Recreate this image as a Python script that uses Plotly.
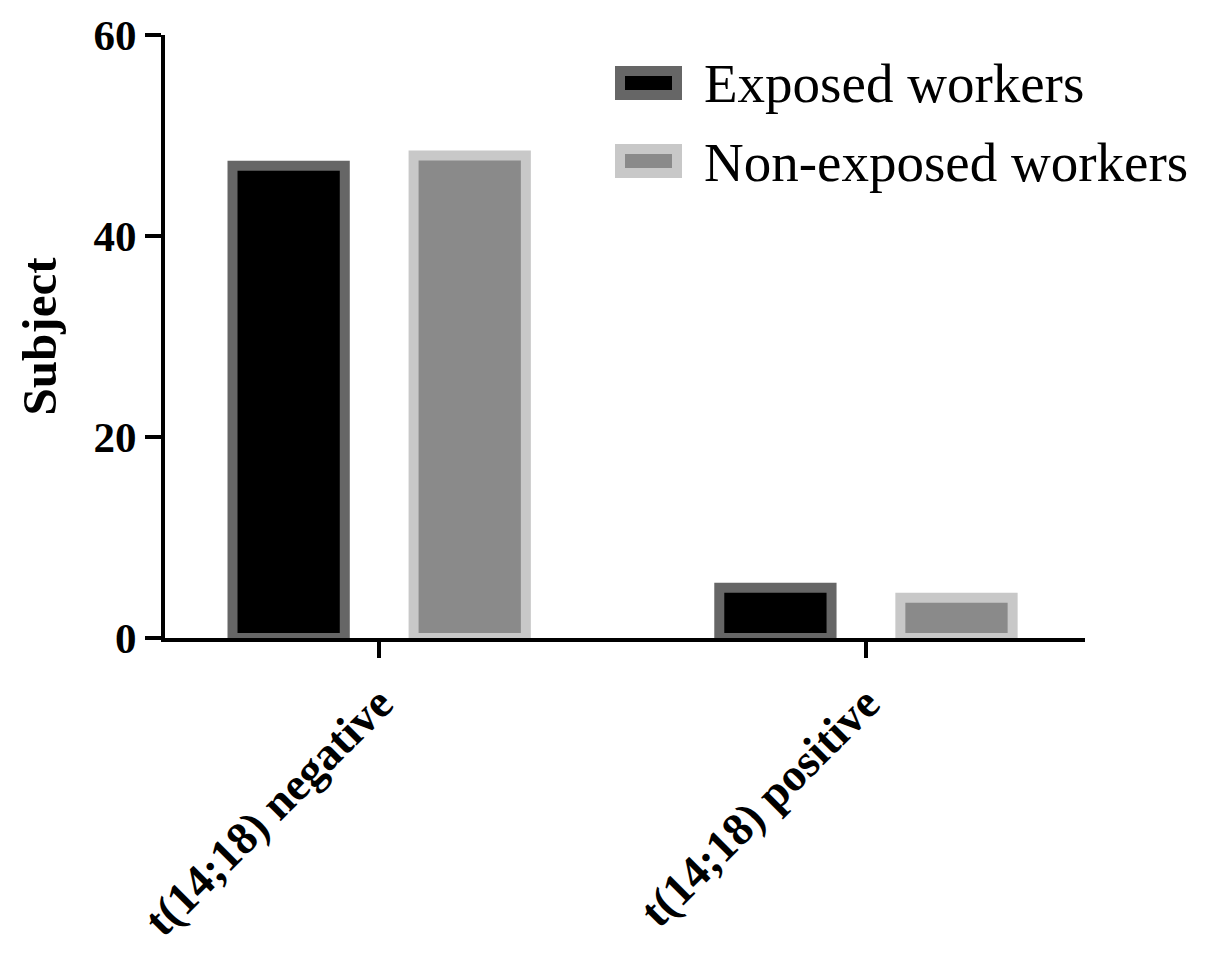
import plotly.graph_objects as go

categories = ["t(14;18) negative", "t(14;18) positive"]
exposed = [47, 5]
non_exposed = [48, 4]
y_ticks = [0, 20, 40, 60]
series_names = ["Exposed workers", "Non-exposed workers"]

OFF = 8  # default page body margin
W, H = 1205 - OFF, 959 - OFF
L, T = 165 - OFF, 35 - OFF
R = W - (1085 - OFF)
B = H - (638 - OFF)
pw, ph = W - L - R, H - T - B

fig = go.Figure()
fig.add_trace(go.Bar(x=categories, y=exposed, name=series_names[0],
                     marker=dict(color="#000000", line=dict(color="#666666", width=10)),
                     showlegend=False))
fig.add_trace(go.Bar(x=categories, y=non_exposed, name=series_names[1],
                     marker=dict(color="#8a8a8a", line=dict(color="#c8c8c8", width=10)),
                     showlegend=False))

def px2paper(x, y):
    # x, y in page pixels (reference coordinates)
    return (x - OFF - L) / pw, (H - B - (y - OFF)) / ph

# custom legend (style only)
legend_items = [
    (series_names[0], "#000000", "#666666", 83),
    (series_names[1], "#8a8a8a", "#c8c8c8", 161),
]
for name, fill, line, cy in legend_items:
    x0, y0 = px2paper(620, cy - 12)
    x1, y1 = px2paper(677, cy + 12)
    fig.add_shape(type="rect", xref="paper", yref="paper", x0=x0, x1=x1, y0=y1, y1=y0,
                  fillcolor=fill, line=dict(color=line, width=10))
    tx, ty = px2paper(702, cy + 1)
    fig.add_annotation(xref="paper", yref="paper", x=tx, y=ty, text=name, showarrow=False,
                       xanchor="left", yanchor="middle",
                       font=dict(family="Liberation Serif", size=55, color="#000000"))

fig.update_layout(
    width=W, height=H,
    margin=dict(l=L, r=R, t=T, b=B, autoexpand=False),
    paper_bgcolor="white", plot_bgcolor="white",
    barmode="group", bargap=0.256, bargroupgap=0.38,
    font=dict(family="Liberation Serif", color="#000000"),
    xaxis=dict(
        range=[-0.44, 1.45], showline=True, linecolor="#000000", linewidth=4,
        ticks="outside", ticklen=16, tickwidth=4, tickcolor="#000000",
        tickangle=-45, showgrid=False, zeroline=False,
        tickfont=dict(family="Liberation Serif", size=46, color="#000000", weight="bold"),
    ),
    yaxis=dict(
        range=[0, 60], tickvals=y_ticks, showline=True, linecolor="#000000", linewidth=4,
        ticks="outside", ticklen=16, tickwidth=4, tickcolor="#000000",
        showgrid=False, zeroline=False, ticklabeloverflow="allow",
        tickfont=dict(family="Liberation Serif", size=43, color="#000000", weight="bold"),
        title=dict(text="Subject", standoff=22,
                   font=dict(family="Liberation Serif", size=49, color="#000000", weight="bold")),
    ),
)

fig.write_html("out.html")
